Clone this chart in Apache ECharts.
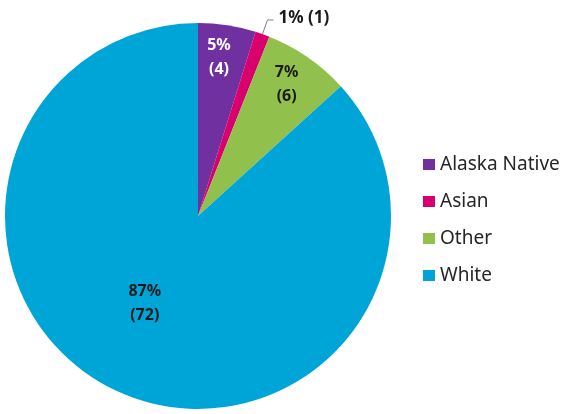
<!DOCTYPE html>
<html><head><meta charset="utf-8">
<script src="https://cdn.jsdelivr.net/npm/echarts@6/dist/echarts.min.js"></script>
<style>html,body{margin:0;padding:0;background:#fff}#c{width:563px;height:414px}</style>
</head><body><div id="c"></div>
<script>
const categories = ['Alaska Native', 'Asian', 'Other', 'White'];
const counts = [4, 1, 6, 72];
const colors = ['#7030A0', '#D9006E', '#92C04C', '#00A5D8'];

const total = counts.reduce((a, b) => a + b, 0);
const labelShift = [[6, -60], [0, -2], [32, -50], [-13, -4]];
const labelColor = ['#ffffff', '#1a1a1a', '#1a1a1a', '#1a1a1a'];

const data = categories.map((name, i) => {
  const item = { name: name, value: counts[i], itemStyle: { color: colors[i] } };
  if (i === 1) {
    item.label = { position: 'outside', fontSize: 17, formatter: p => Math.round(p.value / total * 100) + '% (' + p.value + ')' };
    item.labelLine = { show: true, length: 15, length2: 6, lineStyle: { color: '#7f7f7f', width: 1 } };
  } else {
    item.label = { position: 'inside', color: labelColor[i] };
    item.labelLine = { show: false };
  }
  return item;
});

const chart = echarts.init(document.getElementById('c'));
chart.setOption({
  animation: false,
  legend: {
    orient: 'vertical', left: 418, top: 150,
    itemWidth: 12, itemHeight: 11, itemGap: 18,
    icon: 'rect',
    textStyle: { fontFamily: 'Noto Sans', fontSize: 19, color: '#262626' },
    data: categories
  },
  series: [{
    type: 'pie',
    center: [198, 216],
    radius: [0, 193],
    startAngle: 90,
    clockwise: true,
    avoidLabelOverlap: false,
    label: {
      show: true,
      fontFamily: 'Noto Sans', fontSize: 16, fontWeight: 'bold', lineHeight: 24,
      color: '#1a1a1a',
      formatter: p => Math.round(p.value / total * 100) + '%\n(' + p.value + ')'
    },
    labelLayout: p => {
      const s = labelShift[p.dataIndex];
      return { dx: s[0], dy: s[1] };
    },
    emphasis: { disabled: true },
    data: data
  }]
});
</script>
</body></html>
